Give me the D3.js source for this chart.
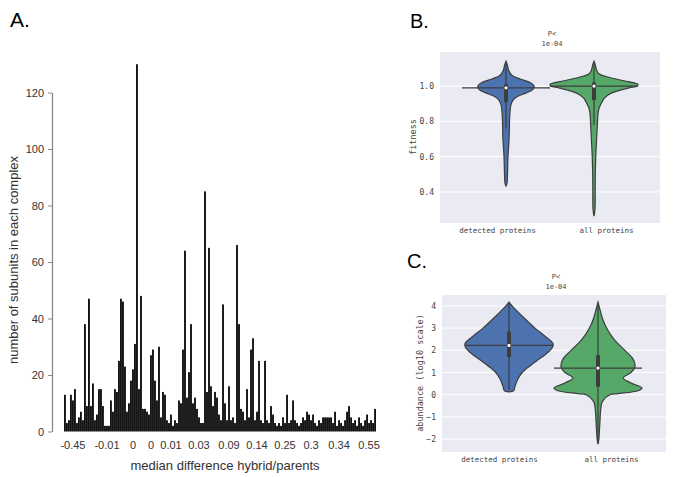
<!DOCTYPE html>
<html>
<head>
<meta charset="utf-8">
<script src="https://cdn.jsdelivr.net/npm/d3@7"></script>
<style>
  body { margin: 0; background: #fff; }
  svg { display: block; }
</style>
</head>
<body>
<svg id="fig" width="674" height="477"></svg>
<script>
// ---- panel A data: subunit counts per category, left to right ----
const countsA = [
  13, 3, 4, 13, 11, 15, 3, 5, 7, 4, 38, 9, 47, 9, 17, 4, 6, 15, 15, 9,
  2, 2, 2, 11, 7, 15, 14, 25, 47, 46, 23, 7, 10, 18, 22, 31, 130, 15, 48, 8,
  8, 7, 6, 27, 29, 18, 11, 30, 5, 14, 13, 4, 3, 6, 2, 4, 3, 11, 10, 29,
  64, 12, 21, 38, 10, 12, 8, 5, 3, 3, 85, 14, 65, 16, 9, 14, 12, 6, 4, 45,
  10, 4, 16, 4, 5, 3, 66, 38, 8, 7, 4, 15, 5, 29, 33, 4, 7, 25, 4, 3,
  25, 4, 3, 9, 6, 3, 2, 3, 2, 5, 3, 13, 3, 4, 11, 4, 3, 2, 3, 5,
  4, 7, 6, 4, 6, 3, 2, 4, 3, 5, 5, 5, 5, 5, 3, 7, 2, 4, 3, 2,
  4, 7, 9, 5, 3, 4, 2, 5, 3, 2, 4, 6, 3, 4, 3, 8
];
const xLabelIdxA = [4, 21, 34, 43, 53, 67, 82, 96, 110, 123, 137, 152];
const xLabelsA = ["-0.45", "-0.01", "0", "0", "0.01", "0.03", "0.09", "0.14", "0.25", "0.3", "0.34", "0.55"];
const yTicksA = [0, 20, 40, 60, 80, 100, 120];

// ---- panels B and C: violin profiles (value, relative density) ----
const groups = ["detected proteins", "all proteins"];
const fitDetected = [
  [1.14, 0], [1.12, 0.03], [1.09, 0.06], [1.06, 0.14], [1.04, 0.32], [1.02, 0.55],
  [1.0, 0.64], [0.98, 0.61], [0.96, 0.45], [0.94, 0.25], [0.92, 0.16], [0.89, 0.11],
  [0.85, 0.09], [0.8, 0.08], [0.7, 0.07], [0.6, 0.045], [0.5, 0.034], [0.45, 0.023], [0.433, 0]
];
const fitAll = [
  [1.14, 0], [1.12, 0.03], [1.09, 0.06], [1.07, 0.11], [1.05, 0.34], [1.03, 0.68],
  [1.01, 1.0], [1.0, 0.98], [0.99, 0.8], [0.97, 0.5], [0.95, 0.32], [0.93, 0.23],
  [0.9, 0.16], [0.87, 0.11], [0.84, 0.09], [0.8, 0.08], [0.7, 0.06], [0.6, 0.04],
  [0.5, 0.03], [0.4, 0.027], [0.3, 0.022], [0.263, 0]
];
const abDetected = [
  [4.17, 0], [4.0, 0.07], [3.5, 0.32], [3.0, 0.59], [2.6, 0.84], [2.3, 1.0],
  [2.1, 0.98], [1.8, 0.82], [1.5, 0.61], [1.2, 0.41], [1.0, 0.3], [0.7, 0.2],
  [0.4, 0.14], [0.2, 0.11], [0.15, 0.07], [0.13, 0]
];
const abAll = [
  [4.17, 0], [3.8, 0.05], [3.5, 0.09], [3.06, 0.18], [2.5, 0.36], [1.94, 0.64],
  [1.6, 0.8], [1.25, 0.84], [1.0, 0.75], [0.75, 0.57], [0.53, 0.75], [0.3, 1.0],
  [0.18, 0.91], [0.05, 0.45], [0, 0.27], [-0.3, 0.1], [-0.7, 0.06], [-1.2, 0.045],
  [-1.7, 0.03], [-2.0, 0.02], [-2.22, 0]
];
// box summaries: [whisker low, q1, median, q3, whisker high]
const fitBoxes = [[0.76, 0.91, 0.99, 1.01, 1.13], [0.78, 0.92, 1.0, 1.02, 1.13]];
const abBoxes = [[0.2, 1.7, 2.22, 2.84, 4.1], [-2.2, 0.36, 1.2, 1.78, 4.1]];
const fitTicks = [0.4, 0.6, 0.8, 1.0];
const abTicks = [-2, -1, 0, 1, 2, 3, 4];

const svg = d3.select("#fig");
const sans = "Liberation Sans, Arial, sans-serif";
const mono = "DejaVu Sans Mono, monospace";

/////////////////////////
// Panel A: bar chart  //
/////////////////////////
const xA = d3.scaleBand().domain(d3.range(countsA.length)).range([64, 376]).paddingInner(0.06);
const yA = d3.scaleLinear().domain([0, 120]).range([431.5, 92.5]);

svg.append("text").attr("x", 10).attr("y", 27)
  .style("font-family", sans).style("font-size", "21px").text("A.");

svg.append("g").selectAll("rect")
  .data(countsA)
  .enter()
  .append("rect")
  .attr("x", (d, i) => xA(i))
  .attr("y", d => yA(d))
  .attr("width", xA.bandwidth())
  .attr("height", d => yA(0) - yA(d))
  .style("fill", "#111");

const axA = svg.append("g").attr("transform", "translate(52,0)")
  .call(d3.axisLeft(yA).tickValues(yTicksA).tickSize(4).tickSizeOuter(0).tickPadding(4));
axA.select(".domain").attr("stroke", "#8a8a8a").attr("stroke-width", 1.3);
axA.selectAll(".tick line").attr("stroke", "#8a8a8a");
axA.selectAll("text").style("font-family", sans).style("font-size", "11px").attr("fill", "#333");

const axAx = svg.append("g").attr("transform", "translate(0,437)")
  .call(d3.axisBottom(xA).tickValues(xLabelIdxA).tickFormat((d, i) => xLabelsA[i]).tickSize(0).tickPadding(4));
axAx.select(".domain").remove();
axAx.selectAll("text").style("font-family", sans).style("font-size", "11px").attr("fill", "#333");

svg.append("text").attr("x", 225).attr("y", 470).attr("text-anchor", "middle")
  .style("font-family", sans).style("font-size", "13px").attr("fill", "#333")
  .text("median difference hybrid/parents");
svg.append("text").attr("transform", "translate(18,260) rotate(-90)").attr("text-anchor", "middle")
  .style("font-family", sans).style("font-size", "13px").attr("fill", "#333")
  .text("number of subunits in each complex");

///////////////////////////////
// Panels B and C: violins   //
///////////////////////////////
const colors = ["#4c72b0", "#55a868"];
const dens = d3.scaleLinear().domain([0, 1]).range([0, 44]);

function violinPanel(o) {
  const g = svg.append("g");
  const x = d3.scalePoint().domain(groups).range(o.centers);
  const y = d3.scaleLinear().domain(o.domain).range([o.bottom, o.top]);

  g.append("text").attr("x", o.letter[0]).attr("y", o.letter[1])
    .style("font-family", sans).style("font-size", "20px").text(o.name);

  g.append("rect").attr("x", o.left).attr("y", o.top)
    .attr("width", o.right - o.left).attr("height", o.bottom - o.top)
    .style("fill", "#eaeaf2");

  g.append("g").selectAll("line").data(o.ticks).enter().append("line")
    .attr("x1", o.left).attr("x2", o.right)
    .attr("y1", d => y(d)).attr("y2", d => y(d))
    .style("stroke", "#fff").style("stroke-width", 1);

  const ya = g.append("g").attr("transform", "translate(" + o.left + ",0)")
    .call(d3.axisLeft(y).tickValues(o.ticks).tickFormat(d3.format(o.fmt)).tickSize(0).tickPadding(6));
  ya.select(".domain").remove();
  ya.selectAll("text").style("font-family", mono).style("font-size", "8px").attr("fill", "#444");

  const xa = g.append("g").attr("transform", "translate(0," + o.bottom + ")")
    .call(d3.axisBottom(x).tickSize(0).tickPadding(5));
  xa.select(".domain").remove();
  xa.selectAll("text").attr("dx", (d, i) => o.labelShift[i])
    .style("font-family", mono).style("font-size", "7.5px").attr("fill", "#444");

  g.append("text").attr("transform", "translate(" + o.ylab[0] + "," + o.ylab[1] + ") rotate(-90)")
    .attr("text-anchor", "middle").style("font-family", mono).style("font-size", "8.5px").attr("fill", "#444")
    .text(o.ylabel);

  const tx = (o.left + o.right) / 2 + 2;
  g.append("text").attr("x", tx).attr("y", o.top - 16).attr("text-anchor", "middle")
    .style("font-family", mono).style("font-size", "7px").attr("fill", "#444").text("P<");
  g.append("text").attr("x", tx).attr("y", o.top - 6).attr("text-anchor", "middle")
    .style("font-family", mono).style("font-size", "7px").attr("fill", "#444").text("1e-04");

  o.profiles.forEach((p, i) => {
    const cx = x(groups[i]);
    const area = d3.area()
      .y(d => y(d[0]))
      .x0(d => cx - dens(d[1]))
      .x1(d => cx + dens(d[1]))
      .curve(d3.curveCatmullRom);
    g.append("path").datum(p).attr("d", area)
      .style("fill", colors[i]).style("stroke", "#3d3d3d").style("stroke-width", 1.2);

    const b = o.boxes[i];
    g.append("line").attr("x1", cx).attr("x2", cx).attr("y1", y(b[0])).attr("y2", y(b[4]))
      .style("stroke", "#3d3d3d").style("stroke-width", 1.2);
    g.append("line").attr("x1", cx).attr("x2", cx).attr("y1", y(b[1])).attr("y2", y(b[3]))
      .style("stroke", "#3d3d3d").style("stroke-width", 4);
    g.append("line").attr("x1", cx - 44).attr("x2", cx + 44).attr("y1", y(b[2])).attr("y2", y(b[2]))
      .style("stroke", "#3d3d3d").style("stroke-width", 1.3);
    g.append("circle").attr("cx", cx).attr("cy", y(b[2])).attr("r", 1.6).style("fill", "#fff");
  });
}

violinPanel({
  name: "B.", letter: [410, 28],
  left: 440, right: 660, top: 52, bottom: 223,
  domain: [0.224, 1.193], ticks: fitTicks, fmt: ".1f",
  centers: [506, 594], labelShift: [-9, 12],
  ylabel: "fitness", ylab: [416, 137],
  profiles: [fitDetected, fitAll], boxes: fitBoxes
});

violinPanel({
  name: "C.", letter: [407, 268],
  left: 442, right: 666, top: 295, bottom: 452,
  domain: [-2.58, 4.49], ticks: abTicks, fmt: "d",
  centers: [509, 598], labelShift: [-10, 13],
  ylabel: "abundance (log10 scale)", ylab: [423, 373],
  profiles: [abDetected, abAll], boxes: abBoxes
});
</script>
</body>
</html>
